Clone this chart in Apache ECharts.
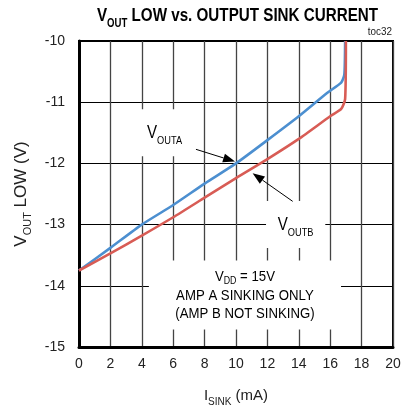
<!DOCTYPE html>
<html>
<head>
<meta charset="utf-8">
<script src="https://cdn.jsdelivr.net/npm/echarts@6/dist/echarts.min.js"></script>
<style>
  html, body { margin: 0; padding: 0; background: #fff; }
  #chart { width: 404px; height: 412px; }
</style>
</head>
<body>
<div id="chart"></div>
<script>
// Sink current (mA) and output-low voltage (V) for each amplifier
const sinkCurrentA = [0, 2, 4, 6, 8, 10, 12, 14, 15.8, 16.7, 16.9, 16.95];
const voutA        = [-13.75, -13.38, -13.0, -12.68, -12.33, -12.0, -11.62, -11.23, -10.85, -10.68, -10.55, -10.0];
const sinkCurrentB = [0, 2, 4, 6, 8, 10, 12, 14, 16, 16.7, 16.95, 17.0];
const voutB        = [-13.75, -13.47, -13.18, -12.88, -12.56, -12.24, -11.93, -11.6, -11.23, -11.11, -10.95, -10.0];

const xTicks = [0, 2, 4, 6, 8, 10, 12, 14, 16, 18, 20];
const yTicks = [-15, -14, -13, -12, -11, -10];

const FONT = "'Liberation Sans', Arial, sans-serif";
const BLUE = '#4c8fd0';
const RED = '#d85c55';

const chart = echarts.init(document.getElementById('chart'), null, { renderer: 'canvas' });

function pairs(xs, ys) { return xs.map((x, i) => [x, ys[i]]); }

const sub = (size, lh, weight) => ({ fontFamily: FONT, fontSize: size, fontWeight: weight || 'normal', verticalAlign: 'bottom', lineHeight: lh, color: '#222' });
const main = (size, lh, weight) => ({ fontFamily: FONT, fontSize: size, fontWeight: weight || 'normal', verticalAlign: 'middle', lineHeight: lh, color: '#222' });

chart.setOption({
  animation: false,
  backgroundColor: '#fff',
  grid: {
    left: 79, right: 11, top: 41, bottom: 61,
    show: true, borderColor: '#000', borderWidth: 2, backgroundColor: 'transparent'
  },
  xAxis: {
    type: 'value', min: xTicks[0], max: xTicks[xTicks.length - 1], interval: 2,
    axisLine: { show: true, onZero: false, lineStyle: { color: '#000', width: 3 } },
    axisTick: { show: false },
    axisLabel: { fontFamily: FONT, fontSize: 14, color: '#222', margin: 10 },
    splitLine: { show: true, lineStyle: { color: '#444', width: 1.3 } },
    name: '{m|I}{s|SINK}{m| (mA)}',
    nameLocation: 'middle', nameGap: 38,
    nameTextStyle: { rich: { m: main(15, 20), s: sub(10, 22) } }
  },
  yAxis: {
    type: 'value', min: yTicks[0], max: yTicks[yTicks.length - 1], interval: 1,
    axisLine: { show: true, onZero: false, lineStyle: { color: '#000', width: 3 } },
    axisTick: { show: false },
    axisLabel: { fontFamily: FONT, fontSize: 14, color: '#222', margin: 14 },
    splitLine: { show: true, lineStyle: { color: '#000', width: 1 } },
    name: '{m|V}{s|OUT}{m| LOW (V)}',
    nameLocation: 'middle', nameGap: 45, nameRotate: 90,
    nameTextStyle: { rich: { m: main(17, 22), s: sub(11, 25) } }
  },
  series: [
    {
      name: 'VOUTA', type: 'line', data: pairs(sinkCurrentA, voutA),
      showSymbol: false, smooth: 0.2, z: 3,
      lineStyle: { color: BLUE, width: 2.6 }
    },
    {
      name: 'VOUTB', type: 'line', data: pairs(sinkCurrentB, voutB),
      showSymbol: false, smooth: 0.2, z: 4,
      lineStyle: { color: RED, width: 2.6 }
    }
  ]
});

// Annotations, anchored in data coordinates
const labelA = { at: [5.45, -11.5], text: '{m|V}{s|OUTA}' };
const labelB = { at: [13.8, -13.0], text: '{m|V}{s|OUTB}' };
const noteAt = [10.57, -14.15];
const arrowA = { from: [7.45, -11.77], to: [9.94, -11.97] };
const arrowB = { from: [13.61, -12.62], to: [11.06, -12.16] };

const px = (p) => chart.convertToPixel({ gridIndex: 0 }, p);

function arrow(a) {
  const s = px(a.from), t = px(a.to);
  const dx = t[0] - s[0], dy = t[1] - s[1];
  const len = Math.hypot(dx, dy);
  const ux = dx / len, uy = dy / len, nx = -uy, ny = ux;
  const L = 12, W = 4.5;
  const bx = t[0] - ux * L, by = t[1] - uy * L;
  return [
    { type: 'line', z: 10, shape: { x1: s[0], y1: s[1], x2: bx, y2: by }, style: { stroke: '#000', lineWidth: 1 } },
    { type: 'polygon', z: 10, shape: { points: [t, [bx + nx * W, by + ny * W], [bx - nx * W, by - ny * W]] }, style: { fill: '#000' } }
  ];
}

function label(l, pad) {
  const p = px(l.at);
  return {
    type: 'text', z: 1, x: p[0], y: p[1], scaleX: 0.84,
    style: {
      text: l.text, align: 'center', verticalAlign: 'middle',
      backgroundColor: '#fff', padding: pad,
      rich: { m: main(18, 24), s: sub(11, 27) }
    }
  };
}

const np = px(noteAt);
chart.setOption({
  graphic: [
    {
      type: 'text', z: 5, x: 237.5, y: 16, scaleX: 0.8,
      style: {
        text: '{m|V}{s|OUT}{m| LOW vs. OUTPUT SINK CURRENT}',
        align: 'center', verticalAlign: 'middle',
        rich: {
          m: Object.assign(main(19, 24, 'bold'), { color: '#111' }),
          s: Object.assign(sub(12, 27, 'bold'), { color: '#111' })
        }
      }
    },
    label(labelA, [10, 20, 10, 20]),
    label(labelB, [10, 14, 10, 14]),
    {
      type: 'text', z: 1, x: np[0], y: np[1], scaleX: 0.88,
      style: {
        text: '{m|V}{s|DD}{m| = 15V}\n{m|AMP A SINKING ONLY}\n{m|(AMP B NOT SINKING)}',
        align: 'center', verticalAlign: 'middle',
        backgroundColor: '#fff', padding: [6, 30, 6, 30],
        rich: { m: main(15, 18.5), s: sub(10, 20) }
      }
    },
    {
      type: 'text', z: 5, x: 392, y: 26, scaleX: 0.9,
      style: { text: 'toc32', align: 'right', verticalAlign: 'top', font: '11px ' + FONT, fill: '#222' }
    }
  ].concat(arrow(arrowA), arrow(arrowB))
});
</script>
</body>
</html>
